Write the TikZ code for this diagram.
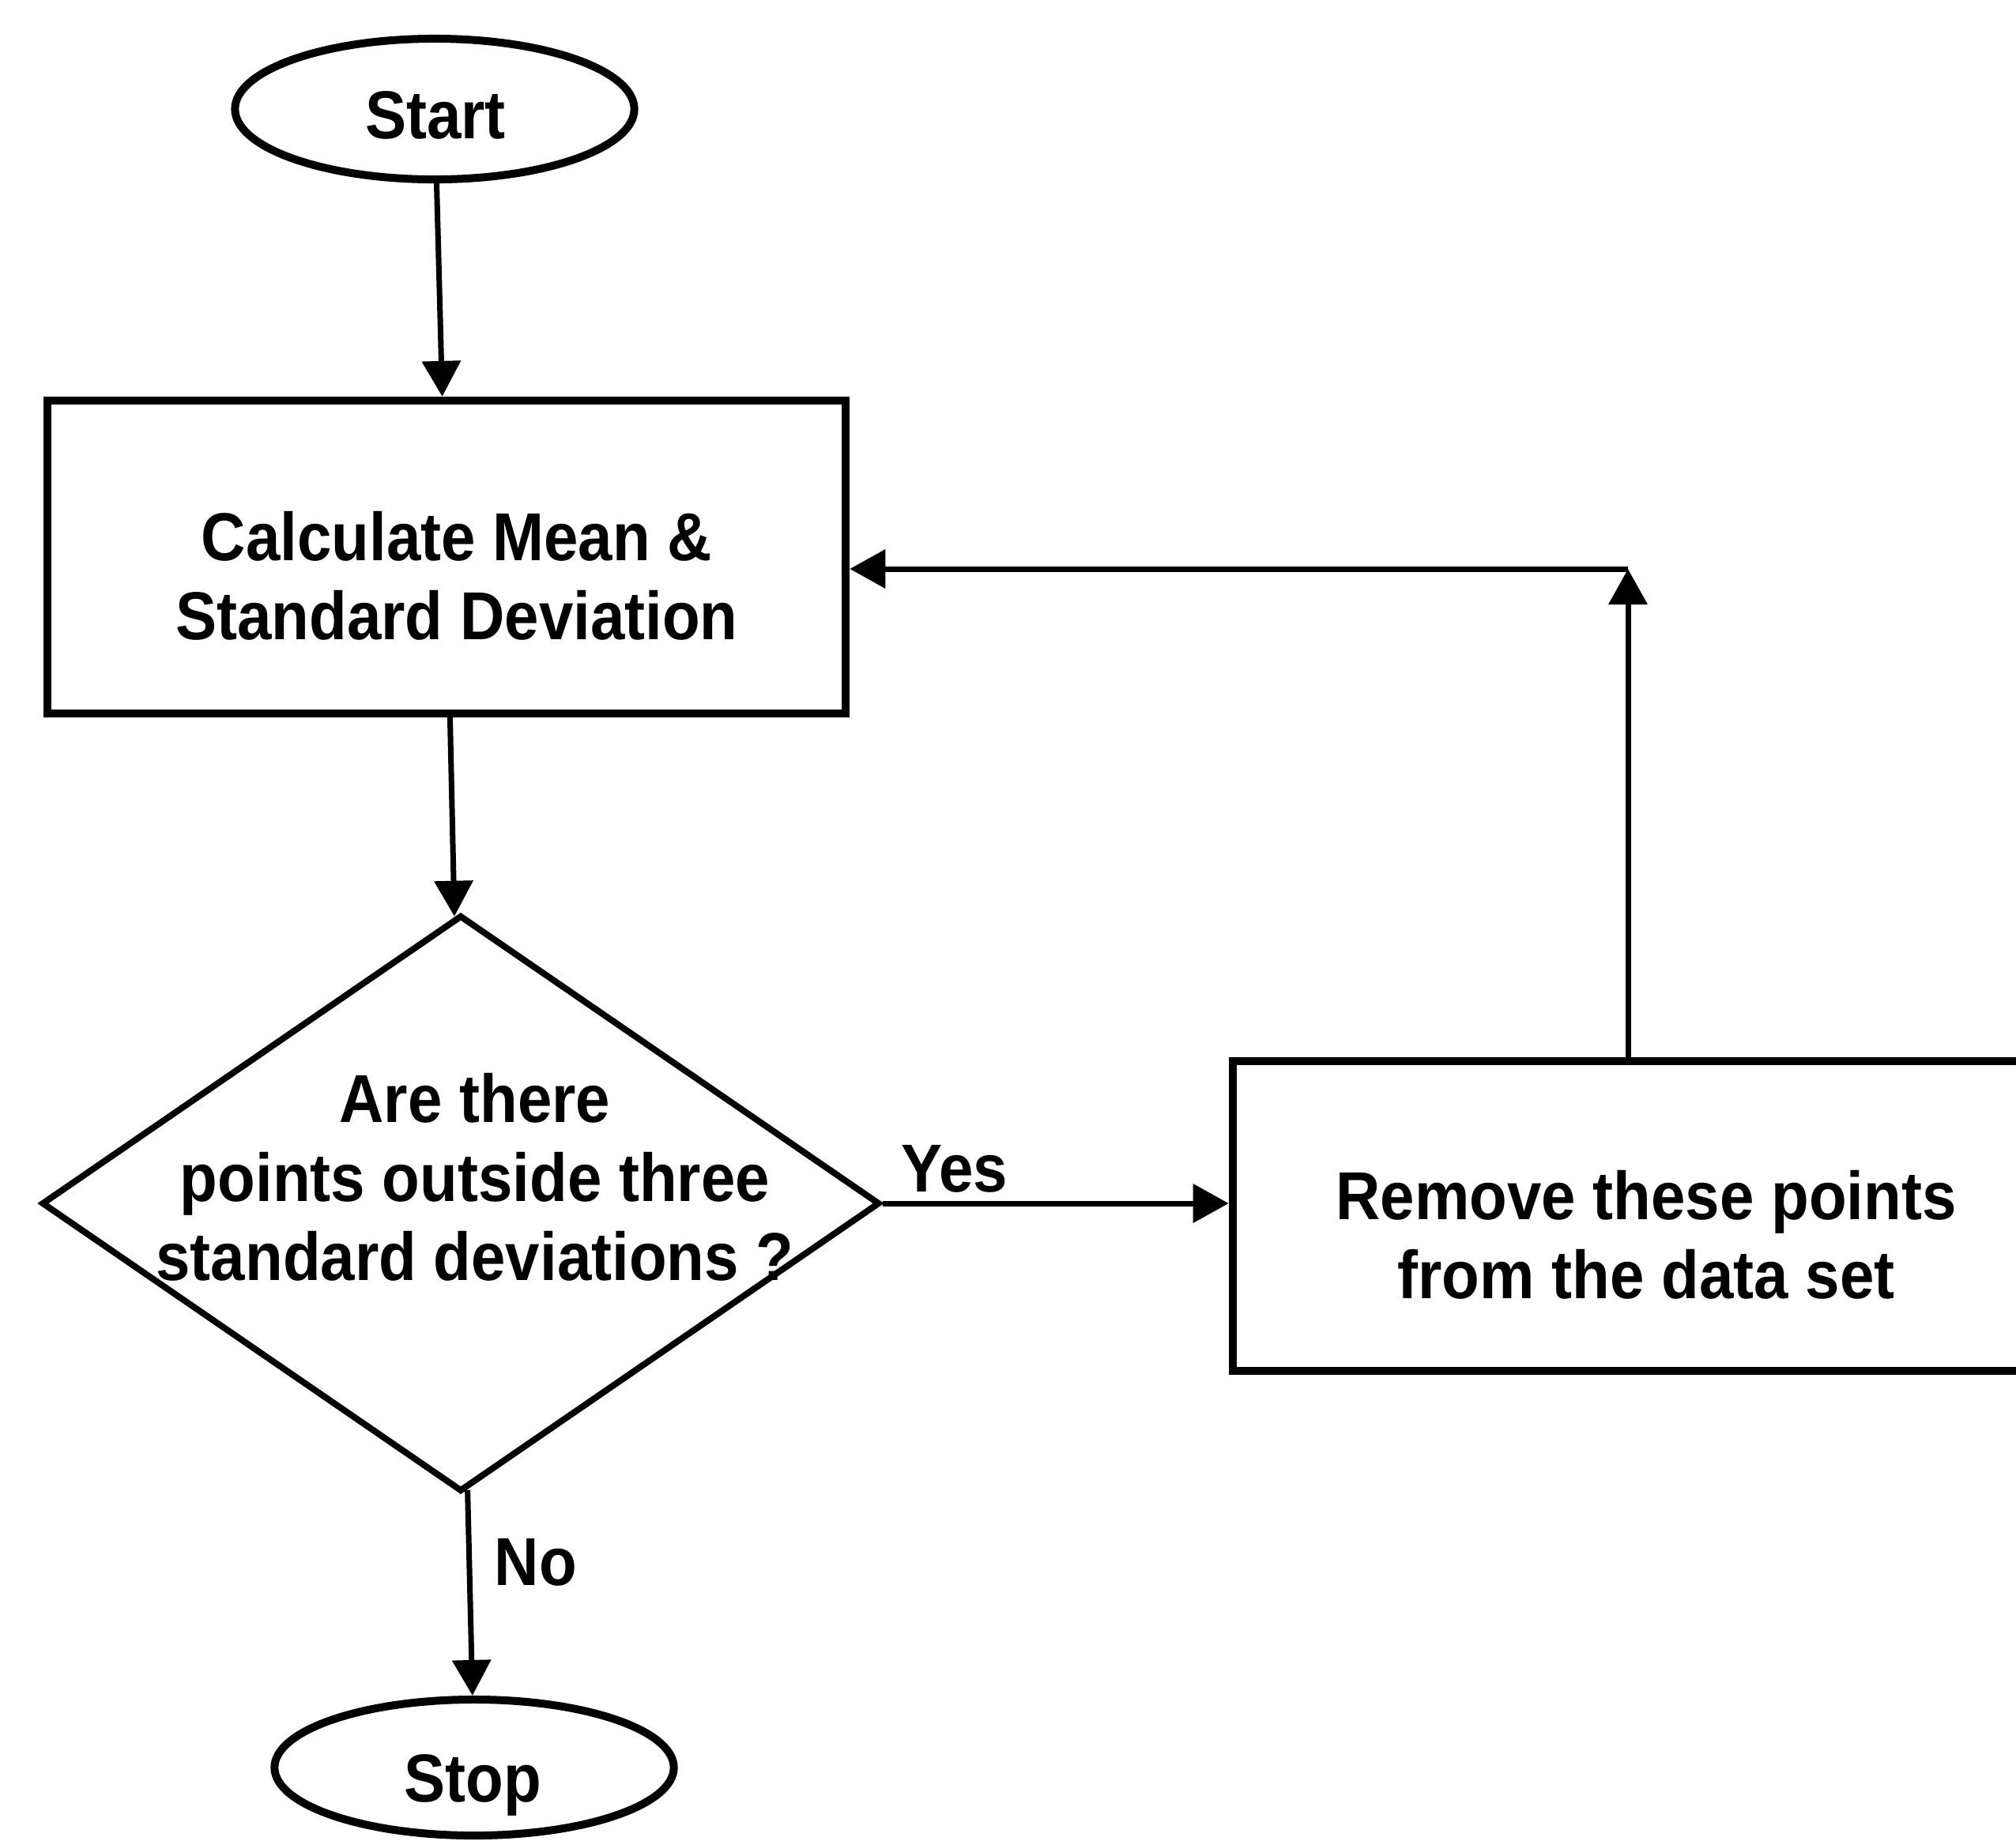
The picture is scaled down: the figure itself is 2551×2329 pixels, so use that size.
\documentclass[tikz,border=0pt]{standalone}
\usepackage{fontspec}
\usepackage{graphicx}
\setmainfont{Liberation Sans}
\usetikzlibrary{shapes.geometric,arrows.meta}
% slightly taller letter shapes
\newcommand\tall[1]{\scalebox{1}[1.1]{#1}}
\begin{document}
\begin{tikzpicture}[x=0.01cm,y=-0.01cm,
  txt/.style={font=\fontsize{22.2}{28.4}\selectfont\bfseries, align=center, inner sep=0pt},
  terminal/.style={ellipse, draw, line width=0.1cm, minimum width=5.05cm, inner sep=0pt},
  process/.style={rectangle, draw, line width=0.1cm, inner sep=0pt},
  decision/.style={diamond, draw, line width=0.08cm, inner sep=0pt,
                   minimum width=10.6cm, minimum height=7.29cm},
  conn/.style={line width=0.07cm, -{Triangle[length=0.45cm,width=0.48cm]}},
  lbl/.style={txt, anchor=base west}]

  % page frame
  \clip (0,0) rectangle (2551,2329);
  \fill[white] (0,0) rectangle (2551,2329);

  % shapes
  \node[terminal, minimum height=1.78cm] (start) at (550,138) {};
  \node[process, minimum width=10.1cm, minimum height=3.96cm] (calc) at (565,705) {};
  \node[decision] (dec) at (583,1523) {};
  \node[process, minimum width=10.5cm, minimum height=3.92cm] (rem) at (2085,1539) {};
  \node[terminal, minimum height=1.72cm] (stop) at (600,2237) {};

  % texts inside the shapes
  \node[txt] (starttext) at (551,146) {\tall{Start}};
  \node[txt] (calctext) at (578,729) {\tall{Calculate Mean \&}\\\tall{Standard Deviation}};
  \node[txt] (dectext) at (601,1490)
       {\tall{Are there}\\\tall{points outside three}\\\tall{standard deviations ?}};
  \node[txt] (remtext) at (2083,1563) {\tall{Remove these points}\\\tall{from the data set}};
  \node[txt] (stoptext) at (598,2259) {\tall{Stop}};

  % connectors
  \draw[conn] (start) -- (calc);
  \draw[conn] (calc) -- (dec);
  \draw[conn] (dec) -- (stop);
  \draw[conn] (dec.east) -- (dec.east -| rem.west);
  \coordinate (loop) at (2060,720);
  \draw[conn] (loop |- rem.north) -- (loop);
  \draw[conn] (loop) -- (loop -| calc.east);

  % branch labels
  \node[lbl] (yes) at (1140,1508) {\tall{Yes}};
  \node[lbl] (no) at (625,2006) {\tall{No}};
\end{tikzpicture}
\end{document}
